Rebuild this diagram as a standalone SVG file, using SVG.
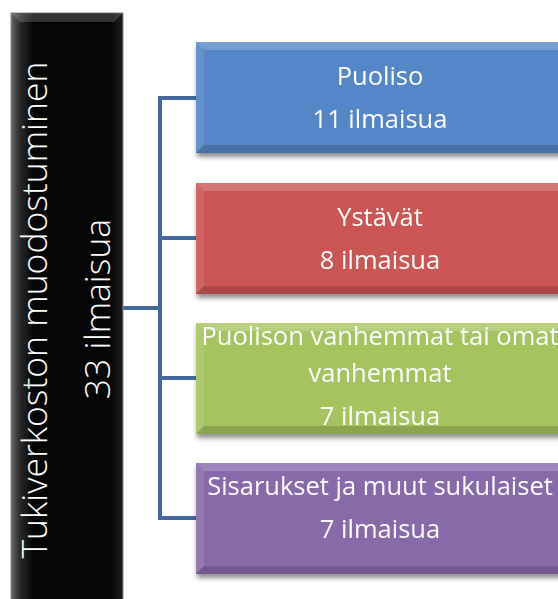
<svg xmlns="http://www.w3.org/2000/svg" width="558" height="599" viewBox="0 0 558 599">
  <defs>
    <filter id="shadow" x="-10%" y="-10%" width="130%" height="140%">
      <feGaussianBlur in="SourceAlpha" stdDeviation="2.5"/>
      <feOffset dx="1" dy="4" result="b"/>
      <feComponentTransfer><feFuncA type="linear" slope="0.45"/></feComponentTransfer>
      <feMerge><feMergeNode/><feMergeNode in="SourceGraphic"/></feMerge>
    </filter>
    <linearGradient id="rimLeft" x1="0" y1="0" x2="1" y2="0">
      <stop offset="0" stop-color="#6a6a6a"/>
      <stop offset="0.08" stop-color="#2a2a2a"/>
      <stop offset="0.2" stop-color="#050505"/>
      <stop offset="0.9" stop-color="#050505"/>
      <stop offset="1" stop-color="#1e1e1e"/>
    </linearGradient>
  </defs>
  <style>
    .box-text { font-family: "Open Sans", "Noto Sans", "Liberation Sans", sans-serif; font-size: 25.5px; fill: #ffffff; text-anchor: middle; }
    .side-text { font-family: "Open Sans", "Noto Sans", "Liberation Sans", sans-serif; font-weight: 300; font-size: 35.5px; fill: #ffffff; text-anchor: middle; }
    .hi { fill: #ffffff; opacity: 0.2; }
    .lo { fill: #000000; opacity: 0.16; }
    .edge { fill: #ffffff; opacity: 0.1; }
    .link { fill: none; stroke: #41699c; stroke-width: 4; stroke-linejoin: miter; stroke-linecap: square; }
  </style>

  <!-- connectors -->
  <g id="connectors">
    <path class="link" d="M123 308 H160"/>
    <path class="link" d="M196 98 H160 V518 H196"/>
    <path class="link" d="M160 238 H196"/>
    <path class="link" d="M160 378 H196"/>
  </g>

  <!-- root node -->
  <g id="root">
    <rect x="11" y="13" width="112" height="600" fill="url(#rimLeft)" stroke="#8a8a8a" stroke-width="1"/>
    <polygon points="12,14 122,14 114,22 20,22" fill="#ffffff" opacity="0.18"/>
    <text class="side-text" transform="translate(47 310) rotate(-90)">Tukiverkoston muodostuminen</text>
    <text class="side-text" transform="translate(110 309) rotate(-90)">33 ilmaisua</text>
  </g>

  <!-- child: Puoliso -->
  <g id="node-puoliso" filter="url(#shadow)">
    <rect x="196" y="42" width="370" height="111" fill="#5287c8"/>
    <polygon class="hi" points="196,42 566,42 558,50 204,50"/>
    <polygon class="edge" points="196,42 204,50 204,145 196,153"/>
    <polygon class="lo" points="196,153 204,145 558,145 566,153"/>
    <text class="box-text" x="380" y="85">Puoliso</text>
    <text class="box-text" x="380" y="128">11 ilmaisua</text>
  </g>

  <!-- child: Ystävät -->
  <g id="node-ystavat" filter="url(#shadow)">
    <rect x="196" y="183" width="370" height="111" fill="#cb5552"/>
    <polygon class="hi" points="196,183 566,183 558,191 204,191"/>
    <polygon class="edge" points="196,183 204,191 204,286 196,294"/>
    <polygon class="lo" points="196,294 204,286 558,286 566,294"/>
    <text class="box-text" x="380" y="226">Ystävät</text>
    <text class="box-text" x="380" y="269">8 ilmaisua</text>
  </g>

  <!-- child: parents -->
  <g id="node-vanhemmat" filter="url(#shadow)">
    <rect x="196" y="323" width="370" height="111" fill="#a5c35f"/>
    <polygon class="hi" points="196,323 566,323 558,331 204,331"/>
    <polygon class="edge" points="196,323 204,331 204,426 196,434"/>
    <polygon class="lo" points="196,434 204,426 558,426 566,434"/>
    <text class="box-text" x="380" y="345">Puolison vanhemmat tai omat</text>
    <text class="box-text" x="380" y="382">vanhemmat</text>
    <text class="box-text" x="380" y="425">7 ilmaisua</text>
  </g>

  <!-- child: siblings and relatives -->
  <g id="node-sisarukset" filter="url(#shadow)">
    <rect x="196" y="463" width="370" height="111" fill="#886aab"/>
    <polygon class="hi" points="196,463 566,463 558,471 204,471"/>
    <polygon class="edge" points="196,463 204,471 204,566 196,574"/>
    <polygon class="lo" points="196,574 204,566 558,566 566,574"/>
    <text class="box-text" x="380" y="495">Sisarukset ja muut sukulaiset</text>
    <text class="box-text" x="380" y="538">7 ilmaisua</text>
  </g>
</svg>
